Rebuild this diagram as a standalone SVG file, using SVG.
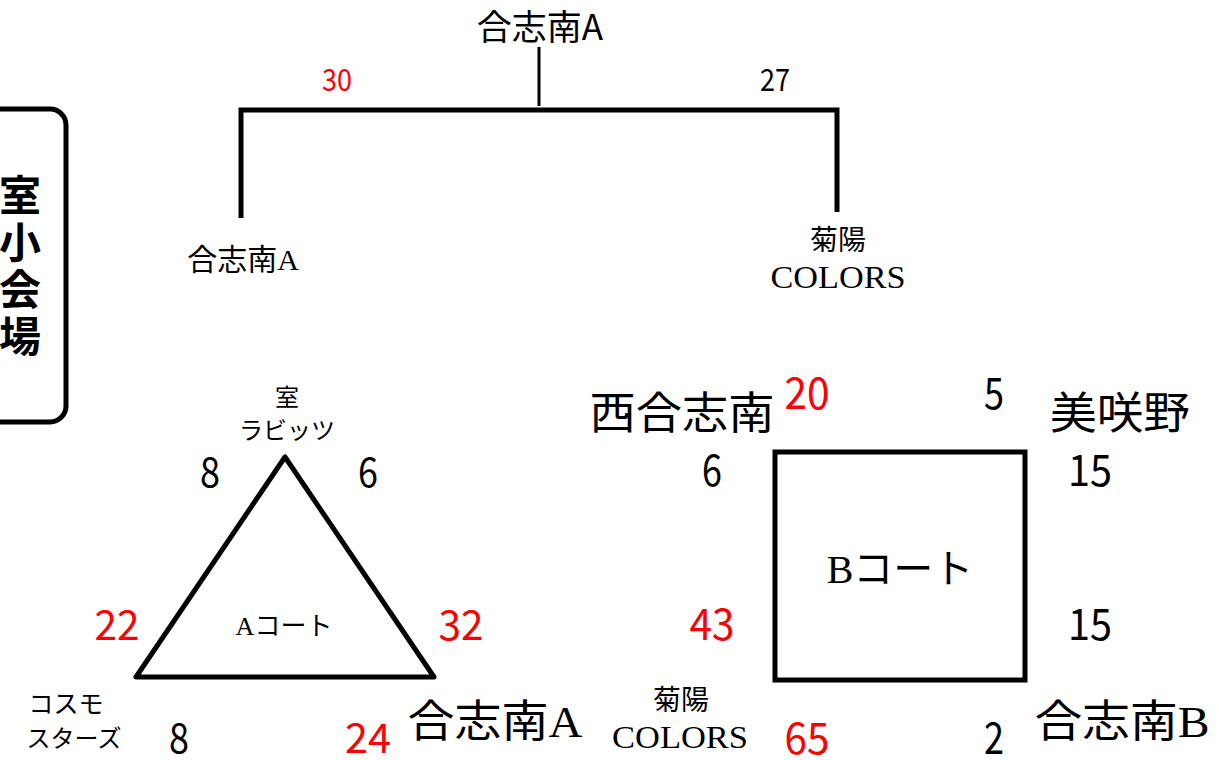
<svg xmlns="http://www.w3.org/2000/svg" width="1219" height="760" viewBox="0 0 1219 760">
<style>
.g{font-family:"Noto Sans CJK JP","Noto Sans",sans-serif;fill:#000}
.m{font-family:"Liberation Serif","Noto Sans CJK JP",serif;fill:#000}
.r{fill:#FF0000}
.n{font-family:"Noto Sans CJK JP","Noto Sans",sans-serif}
.ln{stroke:#000;fill:none;stroke-width:5}
text{text-anchor:middle}
</style>
<rect width="1219" height="760" fill="#fff"/>
<g id="venue">
<rect x="-30" y="109" width="96" height="313" rx="16" ry="16" class="ln" stroke-width="4"/>
<text class="g" font-size="42" font-weight="bold" x="20" y="211">室</text>
<text class="g" font-size="42" font-weight="bold" x="20" y="258">小</text>
<text class="g" font-size="42" font-weight="bold" x="20" y="305">会</text>
<text class="g" font-size="42" font-weight="bold" x="20" y="352">場</text>
</g>
<g id="connectors">
<line x1="539" y1="47" x2="539" y2="106" stroke="#000" stroke-width="3"/>
<polyline points="241,218 241,110 837,110 837,212" class="ln"/>
</g>
<g id="winner">
<text class="g" font-size="35" x="540" y="40">合志南A</text>
</g>
<g id="tree-scores">
<text class="n r" font-size="31" x="337" y="91" textLength="30" lengthAdjust="spacingAndGlyphs">30</text>
<text class="n" font-size="31" x="775" y="91" textLength="30" lengthAdjust="spacingAndGlyphs">27</text>
</g>
<g id="tree-left">
<text class="m" font-size="30" x="243" y="270">合志南A</text>
</g>
<g id="tree-right">
<text class="m" font-size="28" x="838" y="250">菊陽</text>
<text class="m" font-size="32" x="838" y="288" textLength="135" lengthAdjust="spacingAndGlyphs">COLORS</text>
</g>
<g id="a-court">
<polygon points="285,457 136,677 434,677" class="ln" stroke-linejoin="round"/>
<text class="m" font-size="26" x="284" y="635">Aコート</text>
</g>
<g id="a-top">
<text class="g" font-size="24" x="287" y="406">室</text>
<text class="g" font-size="24" x="287" y="439">ラビッツ</text>
<text class="n" font-size="40" x="210" y="487" textLength="20" lengthAdjust="spacingAndGlyphs">8</text>
<text class="n" font-size="40" x="368" y="487" textLength="20" lengthAdjust="spacingAndGlyphs">6</text>
</g>
<g id="a-left">
<text class="g" font-size="25" x="66" y="713">コスモ</text>
<text class="g" font-size="24" x="74" y="747">スターズ</text>
<text class="n r" font-size="40" x="117" y="640" textLength="45" lengthAdjust="spacingAndGlyphs">22</text>
<text class="n" font-size="40" x="179" y="753" textLength="20" lengthAdjust="spacingAndGlyphs">8</text>
</g>
<g id="a-right">
<text class="m" font-size="44" x="495" y="737" textLength="175" lengthAdjust="spacingAndGlyphs">合志南A</text>
<text class="n r" font-size="40" x="461" y="640" textLength="45" lengthAdjust="spacingAndGlyphs">32</text>
<text class="n r" font-size="40" x="368" y="753" textLength="46" lengthAdjust="spacingAndGlyphs">24</text>
</g>
<g id="b-court">
<rect x="775" y="452" width="250" height="228" class="ln"/>
<text class="m" font-size="40" x="900" y="583">Bコート</text>
</g>
<g id="b-nishi">
<text class="g" font-size="44" x="682" y="429" textLength="185" lengthAdjust="spacingAndGlyphs">西合志南</text>
<text class="n r" font-size="43" x="807" y="409" textLength="45" lengthAdjust="spacingAndGlyphs">20</text>
<text class="n" font-size="43" x="712" y="486" textLength="20" lengthAdjust="spacingAndGlyphs">6</text>
<text class="n r" font-size="43" x="712" y="640" textLength="45" lengthAdjust="spacingAndGlyphs">43</text>
</g>
<g id="b-misakino">
<text class="g" font-size="44" x="1120" y="429" textLength="140" lengthAdjust="spacingAndGlyphs">美咲野</text>
<text class="n" font-size="43" x="994" y="409" textLength="20" lengthAdjust="spacingAndGlyphs">5</text>
<text class="n" font-size="43" x="1090" y="486" textLength="44" lengthAdjust="spacingAndGlyphs">15</text>
<text class="n" font-size="43" x="1090" y="640" textLength="44" lengthAdjust="spacingAndGlyphs">15</text>
</g>
<g id="b-kikuyo">
<text class="g" font-size="28" x="681" y="710">菊陽</text>
<text class="m" font-size="31" x="680" y="748" textLength="136" lengthAdjust="spacingAndGlyphs">COLORS</text>
<text class="n r" font-size="43" x="807" y="754" textLength="45" lengthAdjust="spacingAndGlyphs">65</text>
</g>
<g id="b-koshiB">
<text class="m" font-size="44" x="1122" y="737" textLength="175" lengthAdjust="spacingAndGlyphs">合志南B</text>
<text class="n" font-size="43" x="994" y="754" textLength="20" lengthAdjust="spacingAndGlyphs">2</text>
</g>
</svg>
